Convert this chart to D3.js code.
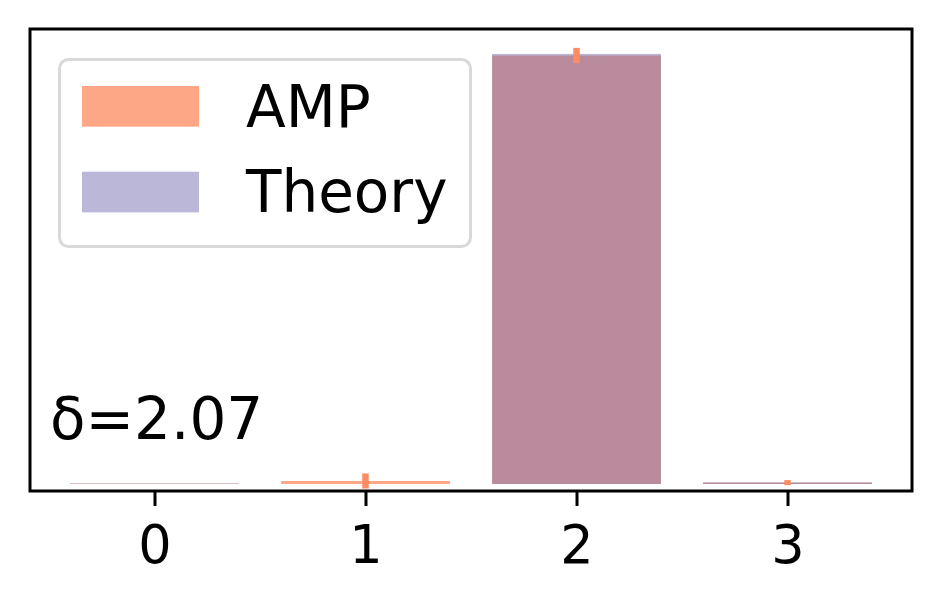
<!DOCTYPE html>
<html>
<head>
<meta charset="utf-8">
<script src="https://cdn.jsdelivr.net/npm/d3@7"></script>
<style>
  body { margin: 0; background: #fff; }
  svg { display: block; font-family: "DejaVu Sans", sans-serif; }
</style>
</head>
<body>
<svg id="chart" width="944" height="608"></svg>
<script>
const categories = [0, 1, 2, 3];
const ampValues = [0.001, 0.0066, 0.9465, 0.003];
const ampErrors = [0, 0.0166, 0.0168, 0.0055];
const theoryValues = [0.001, 0, 0.95, 0.0036];
const tickLabels = ["0", "1", "2", "3"];
const seriesNames = ["AMP", "Theory"];
const annotation = "δ=2.07";

const W = 944, H = 608;
const m = { left: 30, right: 912, top: 29, bottom: 491 };
const svg = d3.select("#chart");

const x = d3.scaleLinear().domain([-0.59, 3.59]).range([m.left, m.right]);
const y = d3.scaleLinear().domain([-0.0155, 1.005]).range([m.bottom, m.top]);
const barW = 0.8;

const ampColor = "rgba(252,141,98,0.77)";
const theoryColor = "rgba(117,112,179,0.5)";
const errColor = "#fc8d62";

// AMP bars
svg.append("g").selectAll("rect").data(categories).join("rect")
  .attr("x", d => x(d - barW / 2))
  .attr("width", d => x(d + barW / 2) - x(d - barW / 2))
  .attr("y", (d, i) => y(ampValues[i]))
  .attr("height", (d, i) => y(0) - y(ampValues[i]))
  .attr("fill", ampColor);

// Theory bars
svg.append("g").selectAll("rect").data(categories).join("rect")
  .attr("x", d => x(d - barW / 2))
  .attr("width", d => x(d + barW / 2) - x(d - barW / 2))
  .attr("y", (d, i) => y(theoryValues[i]))
  .attr("height", (d, i) => y(0) - y(theoryValues[i]))
  .attr("fill", theoryColor);

// Error bars
svg.append("g").selectAll("line").data(categories.filter((d, i) => ampErrors[i] > 0)).join("line")
  .attr("x1", d => x(d)).attr("x2", d => x(d))
  .attr("y1", d => y(ampValues[d] - ampErrors[d]))
  .attr("y2", d => y(ampValues[d] + ampErrors[d]))
  .attr("stroke", errColor).attr("stroke-width", 6.5);

// Frame
svg.append("rect")
  .attr("x", m.left).attr("y", m.top)
  .attr("width", m.right - m.left).attr("height", m.bottom - m.top)
  .attr("fill", "none").attr("stroke", "#000").attr("stroke-width", 3);

// X axis
const xAxis = d3.axisBottom(x).tickValues(categories)
  .tickFormat((d, i) => tickLabels[i]).tickSize(15).tickPadding(20);
const gx = svg.append("g").attr("transform", `translate(0,${m.bottom})`).call(xAxis);
gx.select(".domain").remove();
gx.selectAll(".tick line").attr("stroke", "#000").attr("stroke-width", 3);
gx.selectAll(".tick text").attr("font-size", 52.5).attr("fill", "#000")
  .attr("font-family", "DejaVu Sans, sans-serif").attr("dy", "0.71em");

// Annotation
svg.append("text").attr("x", 50).attr("y", 439).attr("font-size", 58)
  .attr("fill", "#000").text(annotation);

// Legend
const lg = svg.append("g");
lg.append("rect").attr("x", 59.5).attr("y", 59.5).attr("width", 411).attr("height", 187)
  .attr("rx", 9).attr("fill", "rgba(255,255,255,0.8)").attr("stroke", "#d9d9d9").attr("stroke-width", 3);
const legColors = [ampColor, theoryColor];
seriesNames.forEach((name, i) => {
  const yy = 86 + i * 85.7;
  lg.append("rect").attr("x", 82).attr("y", yy).attr("width", 117).attr("height", 40.7)
    .attr("fill", legColors[i]);
  lg.append("text").attr("x", 246).attr("y", yy + 40.7).attr("font-size", 58)
    .attr("fill", "#000").text(name);
});
</script>
</body>
</html>
